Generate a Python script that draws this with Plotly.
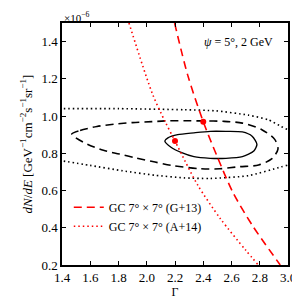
import plotly.graph_objects as go

# Data (flux in units of 1e-6 GeV^-1 cm^-2 s^-1 sr^-1)
g13_gamma = [2.197, 2.29, 2.40, 2.50, 2.61, 2.75, 2.945]
g13_flux = [1.50, 1.22, 0.97, 0.78, 0.59, 0.41, 0.20]

a14_gamma = [1.874, 2.04, 2.13, 2.20, 2.27, 2.36, 2.52, 2.70, 2.79]
a14_flux = [1.50, 1.12, 0.97, 0.866, 0.76, 0.63, 0.45, 0.28, 0.20]

best_gamma = [2.40, 2.20]
best_flux = [0.97, 0.866]

c1_gamma = [2.128, 2.15, 2.219, 2.334, 2.449, 2.561, 2.677, 2.746, 2.78, 2.758,
            2.677, 2.561, 2.449, 2.334, 2.243, 2.174, 2.128]
c1_flux = [0.866, 0.883, 0.900, 0.910, 0.918, 0.918, 0.915, 0.892, 0.849, 0.812,
           0.782, 0.773, 0.773, 0.782, 0.805, 0.831, 0.866]

c2_gamma = [1.47, 1.528, 1.647, 1.773, 1.899, 2.036, 2.128, 2.265, 2.403, 2.54,
            2.677, 2.815, 2.906, 2.929, 2.884, 2.792, 2.655, 2.517, 2.38, 2.174,
            2.059, 1.922, 1.807, 1.693, 1.579, 1.487, 1.47]
c2_flux = [0.905, 0.923, 0.944, 0.957, 0.965, 0.970, 0.974, 0.975, 0.974, 0.972,
           0.962, 0.927, 0.875, 0.822, 0.770, 0.737, 0.728, 0.717, 0.717, 0.735,
           0.753, 0.775, 0.796, 0.816, 0.849, 0.889, 0.905]

c3_gamma = [1.38, 1.80, 2.265, 2.49, 2.72, 2.86, 2.952, 3.02, 3.07,
            3.02, 2.95, 2.72, 2.45, 2.265, 2.06, 1.83, 1.60, 1.38]
c3_flux = [1.04, 1.04, 1.034, 1.028, 1.005, 0.98, 0.944, 0.915, 0.83,
           0.745, 0.727, 0.68, 0.665, 0.668, 0.682, 0.706, 0.735, 0.762]

x_ticks = [1.4, 1.6, 1.8, 2.0, 2.2, 2.4, 2.6, 2.8, 3.0]
y_ticks = [0.2, 0.4, 0.6, 0.8, 1.0, 1.2, 1.4]

FONT = "Liberation Serif"

fig = go.Figure()

fig.add_trace(go.Scatter(x=c3_gamma, y=c3_flux, mode="lines", showlegend=False,
                         line=dict(color="black", width=1.6, dash="1.5px,3px", shape="spline", smoothing=0.6)))
fig.add_trace(go.Scatter(x=c2_gamma, y=c2_flux, mode="lines", showlegend=False,
                         line=dict(color="black", width=1.6, dash="8px,5px", shape="spline", smoothing=0.8)))
fig.add_trace(go.Scatter(x=c1_gamma, y=c1_flux, mode="lines", showlegend=False,
                         line=dict(color="black", width=1.4, shape="spline", smoothing=0.7)))

fig.add_trace(go.Scatter(x=g13_gamma, y=g13_flux, mode="lines",
                         name="GC 7° × 7° (G+13)",
                         line=dict(color="red", width=1.6, dash="8px,5px", shape="spline", smoothing=0.8)))
fig.add_trace(go.Scatter(x=a14_gamma, y=a14_flux, mode="lines",
                         name="GC 7° × 7° (A+14)",
                         line=dict(color="red", width=1.6, dash="1.5px,3px", shape="spline", smoothing=0.8)))
fig.add_trace(go.Scatter(x=best_gamma, y=best_flux, mode="markers", showlegend=False,
                         marker=dict(color="red", size=6)))

axis_common = dict(showline=True, linecolor="black", linewidth=1.5, mirror="allticks",
                   ticks="inside", ticklen=4, tickwidth=1, tickcolor="black",
                   showgrid=False, zeroline=False, tickfont=dict(family=FONT, size=13, color="black"))

fig.update_layout(
    width=300, height=300,
    margin=dict(l=54, r=13, t=15, b=36),
    plot_bgcolor="white", paper_bgcolor="white",
    font=dict(family=FONT, size=12, color="black"),
    xaxis=dict(range=[1.4, 3.0], tickvals=x_ticks, ticktext=[f"{v:.1f}" for v in x_ticks],
               title=dict(text="Γ", font=dict(family=FONT, size=12), standoff=2), **axis_common),
    yaxis=dict(range=[0.2, 1.5], tickvals=y_ticks, ticktext=[f"{v:.1f}" for v in y_ticks],
               title=dict(text="<i>dN</i>/<i>dE</i> [GeV<sup>−1</sup>cm<sup>−2</sup>s<sup>−1</sup>sr<sup>−1</sup>]",
                          font=dict(family=FONT, size=13), standoff=6), **axis_common),
    legend=dict(x=0.03, y=0.1, xanchor="left", yanchor="bottom", bgcolor="rgba(0,0,0,0)",
                font=dict(family=FONT, size=12), tracegroupgap=0, itemwidth=30),
    annotations=[
        dict(text="<i>ψ</i> = 5°, 2 GeV", xref="paper", yref="paper", x=0.944, y=0.92,
             xanchor="right", yanchor="middle", showarrow=False, font=dict(family=FONT, size=12)),
        dict(text="×10<sup>−6</sup>", xref="paper", yref="paper", x=0.0, y=1.0,
             xanchor="left", yanchor="bottom", yshift=-3, showarrow=False, font=dict(family=FONT, size=11)),
    ],
)

fig.write_html("out.html")
